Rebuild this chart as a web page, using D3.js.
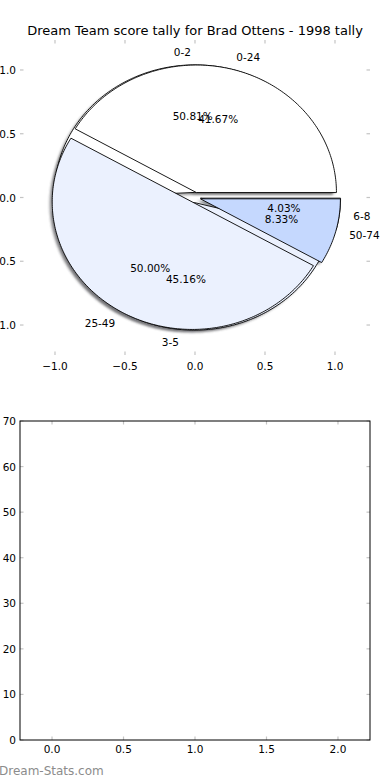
<!DOCTYPE html>
<html><head><meta charset="utf-8">
<script src="https://cdn.jsdelivr.net/npm/d3@7"></script>
<style>
html,body{margin:0;padding:0;background:#fff;}
text{font-family:"DejaVu Sans",sans-serif;fill:#000;}
</style></head>
<body><svg id="c" width="390" height="780"></svg>
<script>
const title = "Dream Team score tally for Brad Ottens - 1998 tally";
const scoreLabels = ["0-2","3-5","6-8"];
const scorePct = [50.81,45.16,4.03];
const tallyLabels = ["0-24","25-49","50-74"];
const tallyPct = [41.67,50.00,8.33];
const wedgeColors = ["#ffffff","#ebf1fe","#c5d8fe"];
const pieTicks = [-1.0,-0.5,0.0,0.5,1.0];
const barYTicks = [0,10,20,30,40,50,60,70];
const barXTicks = [0.0,0.5,1.0,1.5,2.0];

const svg = d3.select("#c");
const defs = svg.append("defs");
defs.append("filter").attr("id","blur").attr("x","-10%").attr("y","-10%").attr("width","120%").attr("height","120%")
  .append("feGaussianBlur").attr("stdDeviation",0.9);

// ---------- Pie axes ----------
const px = d3.scaleLinear().domain([-1.25,1.25]).range([20,370]);
const py = d3.scaleLinear().domain([-1.235,1.235]).range([355,40]);
const explode = 0.04;
const tickColor = "#c4c4c4";

svg.append("text").attr("x",195).attr("y",30).attr("text-anchor","middle")
  .attr("dominant-baseline","central").style("font-size","13px").text(title);

function wedgePts(t0,t1,cx,cy){
  const pts=[[cx,cy]];
  const n=Math.max(4,Math.ceil((t1-t0)/1));
  for(let i=0;i<=n;i++){const t=(t0+(t1-t0)*i/n)*Math.PI/180;pts.push([cx+Math.cos(t),cy+Math.sin(t)]);}
  return pts;
}
const line = d3.line().x(d=>px(d[0])).y(d=>py(d[1]));
const lineS = d3.line().x(d=>px(d[0]-0.02)).y(d=>py(d[1]-0.02));

function buildPie(pcts,labels){
  const tot=d3.sum(pcts);let a=0;
  return pcts.map((v,i)=>{
    const t0=a, t1=a+360*v/tot; a=t1;
    const mid=(t0+t1)/2*Math.PI/180;
    const cx=explode*Math.cos(mid), cy=explode*Math.sin(mid);
    return {t0,t1,mid,cx,cy,v,pct:100*v/tot,label:labels[i],color:wedgeColors[i]};
  });
}
const pieA = buildPie(scorePct,scoreLabels);
const pieB = buildPie(tallyPct,tallyLabels);
const all=[...pieA,...pieB];

const gS=svg.append("g").attr("filter","url(#blur)");
all.forEach(w=>{
  const c=d3.rgb(w.color);
  gS.append("path").attr("d",lineS(wedgePts(w.t0,w.t1,w.cx,w.cy))+"Z")
   .attr("fill",d3.rgb(c.r*0.3,c.g*0.3,c.b*0.3)).attr("fill-opacity",0.5);
});
all.forEach(w=>{
  svg.append("path").attr("d",line(wedgePts(w.t0,w.t1,w.cx,w.cy))+"Z")
   .attr("fill",w.color).attr("stroke","#000").attr("stroke-width",0.9).attr("stroke-linejoin","miter");
});
all.forEach(w=>{
  const xt=w.cx+1.1*Math.cos(w.mid), yt=w.cy+1.1*Math.sin(w.mid);
  svg.append("text").attr("x",px(xt)).attr("y",py(yt)).attr("text-anchor",xt>0?"start":"end")
    .attr("dominant-baseline","central").style("font-size","10.5px").text(w.label);
  const xp=w.cx+0.6*Math.cos(w.mid), yp=w.cy+0.6*Math.sin(w.mid);
  svg.append("text").attr("x",px(xp)).attr("y",py(yp)).attr("text-anchor","middle")
    .attr("dominant-baseline","central").style("font-size","10.5px").text(w.pct.toFixed(2)+"%");
});

// pie axis ticks
const fmt = d=>d3.format(".1f")(d).replace("-","\u2212");
const tk=svg.append("g").attr("stroke",tickColor).attr("stroke-width",1.2);
pieTicks.forEach(t=>{
  tk.append("line").attr("x1",px(t)).attr("x2",px(t)).attr("y1",40).attr("y2",43.5);
  tk.append("line").attr("x1",px(t)).attr("x2",px(t)).attr("y1",355).attr("y2",351.5);
  tk.append("line").attr("y1",py(t)).attr("y2",py(t)).attr("x1",20).attr("x2",23.5);
  tk.append("line").attr("y1",py(t)).attr("y2",py(t)).attr("x1",370).attr("x2",366.5);
  svg.append("text").attr("x",px(t)).attr("y",366).attr("text-anchor","middle")
    .attr("dominant-baseline","central").style("font-size","10.5px").text(fmt(t));
  svg.append("text").attr("x",16).attr("y",py(t)).attr("text-anchor","end")
    .attr("dominant-baseline","central").style("font-size","10.5px").text(fmt(t));
});

// ---------- Bottom empty axes ----------
const bx = d3.scaleLinear().domain([-0.224,2.224]).range([20,370]);
const by = d3.scaleLinear().domain([0,70]).range([740,421]);
const tb=svg.append("g").attr("stroke",tickColor).attr("stroke-width",1.2);
barXTicks.forEach(t=>{
  tb.append("line").attr("x1",bx(t)).attr("x2",bx(t)).attr("y1",421).attr("y2",424.5);
  tb.append("line").attr("x1",bx(t)).attr("x2",bx(t)).attr("y1",740).attr("y2",736.5);
  svg.append("text").attr("x",bx(t)).attr("y",749).attr("text-anchor","middle")
    .attr("dominant-baseline","central").style("font-size","10.5px").text(fmt(t));
});
barYTicks.forEach(t=>{
  tb.append("line").attr("y1",by(t)).attr("y2",by(t)).attr("x1",20).attr("x2",23.5);
  tb.append("line").attr("y1",by(t)).attr("y2",by(t)).attr("x1",370).attr("x2",366.5);
  svg.append("text").attr("x",16).attr("y",by(t)).attr("text-anchor","end")
    .attr("dominant-baseline","central").style("font-size","10.5px").text(t);
});
svg.append("rect").attr("x",20).attr("y",421).attr("width",350).attr("height",319)
  .attr("fill","none").attr("stroke","#000").attr("stroke-width",1);

svg.append("text").attr("x",-1).attr("y",771).attr("dominant-baseline","central")
  .style("font-size","12px").style("fill","#8c8c8c")
  .style("font-family","'DejaVu Sans',sans-serif").text("Dream-Stats.com");
</script></body></html>
